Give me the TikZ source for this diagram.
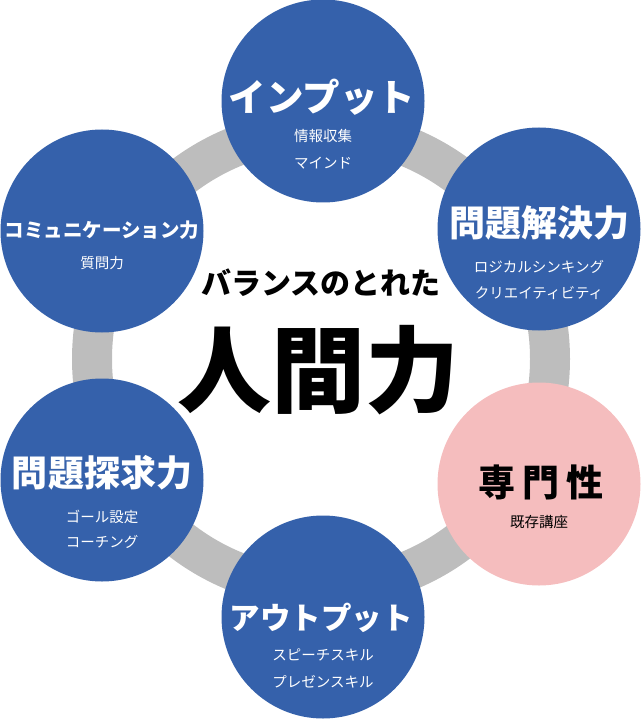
\documentclass[tikz,border=0pt]{standalone}
\usepackage{fontspec}
\setmainfont{Noto Sans CJK JP}
\definecolor{blobblue}{RGB}{53,97,171}
\definecolor{blobpink}{RGB}{245,189,190}
\definecolor{ringgray}{RGB}{189,189,189}
\newcommand{\fs}[1]{\fontsize{#1}{#1}\selectfont}

\begin{document}
\begin{tikzpicture}[x=1pt,y=-1pt,
	blob/.style={circle,fill=blobblue,minimum size=203pt,inner sep=0pt},
	ttl/.style={text=white,font=\bfseries\fs{36},inner sep=0pt},
	sub/.style={text=white,font=\fs{14.5},inner sep=0pt}]
	\useasboundingbox (0,0) rectangle (641,719);
	\draw[ringgray,line width=40pt] (321,359) circle[radius=229];
	% circles
	\node[blob] (inp) at (323,101) {};
	\node[blob] (kom) at (102,231) {};
	\node[blob] (kai) at (539,229) {};
	\node[blob,fill=blobpink] (sen) at (539,484) {};
	\node[blob] (tan) at (102,480) {};
	\node[blob] (out) at (323,617) {};
	% texts
	\node[ttl,font=\bfseries\fs{37.5}] (inp-t) at (322,97) {インプット};
	\node[sub] (inp-a) at (323,136) {情報収集};
	\node[sub] (inp-b) at (323,163) {マインド};
	\node[ttl,font=\bfseries\fs{19.5}] (kom-t) at (102,230) {コミュニケーション力};
	\node[sub] (kom-a) at (102,263) {質問力};
	\node[ttl] (kai-t) at (539,223) {問題解決力};
	\node[sub] (kai-a) at (539,267) {ロジカルシンキング};
	\node[sub] (kai-b) at (539,293) {クリエイティビティ};
	\node[ttl,text=black,font=\bfseries\fs{37}] (sen-t) at (541,482) {専\hspace{7pt}門\hspace{7pt}性};
	\node[sub,text=black] (sen-a) at (539,522) {既存講座};
	\node[ttl] (tan-t) at (102,473) {問題探求力};
	\node[sub] (tan-a) at (102,517) {ゴール設定};
	\node[sub] (tan-b) at (102,542) {コーチング};
	\node[ttl,font=\bfseries\fs{30.5}] (out-t) at (321,618) {アウトプット};
	\node[sub] (out-a) at (323,655) {スピーチスキル};
	\node[sub] (out-b) at (323,682) {プレゼンスキル};
	% centre
	\node[inner sep=0pt,font=\bfseries\fs{30}] (bal) at (321,283) {バランスのとれた};
	\node[inner sep=0pt,font=\bfseries\fs{94}] (nin) at (318,370) {人間力};
\end{tikzpicture}
\end{document}
